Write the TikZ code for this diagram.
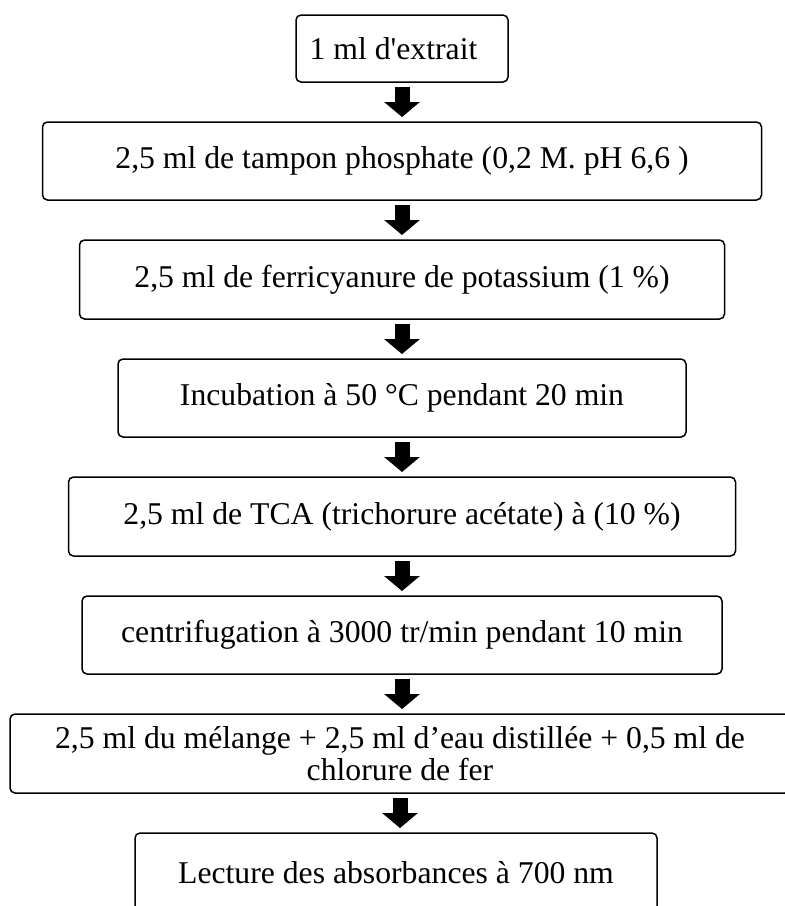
\documentclass[tikz,border=0pt]{standalone}
\usepackage{fontspec}
\setmainfont{Liberation Serif}
\usetikzlibrary{positioning,arrows.meta}
\tikzstyle{stepbox} = [draw,line width=1.5pt,outer sep=0pt,rounded corners=5pt,align=center,inner sep=2pt,font=\fontsize{31.7pt}{32pt}\selectfont]
\tikzstyle{flow} = [line width=15pt,-{Triangle[width=35pt,length=15pt]}]

\begin{document}
\begin{tikzpicture}[node distance=40pt]
  \useasboundingbox[fill=white] (0,0) rectangle (785pt,-906pt);
  \node[stepbox,minimum width=212pt,minimum height=67pt] (extrait) at (402pt,-48.5pt) {1 ml d\textquotesingle extrait\hspace*{17pt}};
  \node[stepbox,minimum width=719pt,minimum height=78pt,below=of extrait] (tampon) {2,5 ml de tampon phosphate (0,2 M. pH 6,6 )};
  \node[stepbox,minimum width=645pt,minimum height=79pt,below=of tampon] (ferri) {2,5 ml de ferricyanure de potassium (1 \%)};
  \node[stepbox,minimum width=568pt,minimum height=78pt,below=of ferri] (incub) {Incubation à 50 °C pendant 20 min};
  \node[stepbox,minimum width=667pt,minimum height=79pt,below=of incub] (tca) {2,5 ml de TCA (trichorure acétate) à (10 \%)};
  \node[stepbox,minimum width=640pt,minimum height=78pt,below=of tca] (centri) {centrifugation à 3000 tr/min pendant 10 min};
  \node[stepbox,minimum width=780pt,minimum height=79pt,below=of centri,xshift=-2pt] (melange) {2,5 ml du mélange + 2,5 ml d’eau distillée + 0,5 ml de\\chlorure de fer};
  \node[stepbox,minimum width=522pt,minimum height=79pt,below=of melange,xshift=-4pt] (lecture) {Lecture des absorbances à 700 nm};
  \draw[flow] ([yshift=-5pt]extrait.south) -- ([yshift=5pt]extrait.south |- tampon.north);
  \draw[flow] ([yshift=-5pt]tampon.south) -- ([yshift=5pt]tampon.south |- ferri.north);
  \draw[flow] ([yshift=-5pt]ferri.south) -- ([yshift=5pt]ferri.south |- incub.north);
  \draw[flow] ([yshift=-5pt]incub.south) -- ([yshift=5pt]incub.south |- tca.north);
  \draw[flow] ([yshift=-5pt]tca.south) -- ([yshift=5pt]tca.south |- centri.north);
  \draw[flow] ([yshift=-5pt]centri.south) -- ([yshift=5pt]centri.south |- melange.north);
  \draw[flow] ([yshift=-5pt]melange.south) -- ([yshift=5pt]melange.south |- lecture.north);
\end{tikzpicture}
\end{document}
